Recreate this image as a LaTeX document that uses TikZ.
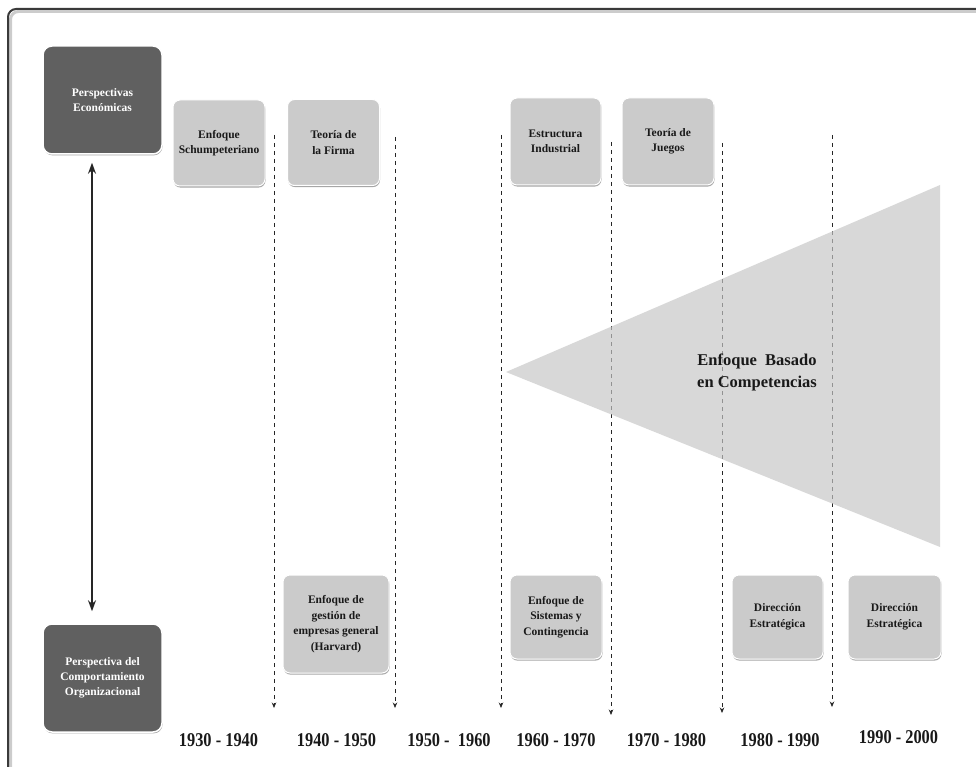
\documentclass[tikz,border=0pt]{standalone}
\usepackage{fontspec}
\setmainfont{Liberation Serif}
\newfontfamily\yearfont{Liberation Serif}[FakeStretch=0.84]
\usetikzlibrary{shadows,arrows.meta}

\definecolor{boxdark}{HTML}{606060}
\definecolor{boxlight}{HTML}{CBCBCB}
\definecolor{wedge}{HTML}{C6C6C6}
\definecolor{framecol}{HTML}{3A3A3A}

\begin{document}
\begin{tikzpicture}[x=1pt,y=-1pt,
  darkbox/.style={rectangle, rounded corners=9pt, fill=boxdark, draw=white,
    line width=1.5pt, text=white, align=center, inner sep=0pt,
    minimum width=119pt, minimum height=108pt,
    font=\bfseries\fontsize{11.5}{15}\selectfont,
    drop shadow={shadow xshift=0.6pt, shadow yshift=-1.4pt, fill=black, opacity=0.35}},
  lightbox/.style={rectangle, rounded corners=7pt, fill=boxlight, draw=white,
    line width=1pt, text=black!90, align=center, inner sep=0pt,
    font=\bfseries\fontsize{11.5}{15.5}\selectfont,
    drop shadow={shadow xshift=0.5pt, shadow yshift=-1.6pt, fill=black, opacity=0.35}},
  yearlbl/.style={font=\yearfont\bfseries\fontsize{19.5}{20}\selectfont, text=black!90, inner sep=0pt},
  period/.style={dashed, dash pattern=on 4pt off 4pt, line width=0.7pt, draw=black!85,
    -{Stealth[length=5.5pt,width=4.5pt]}},
  axis/.style={line width=1.3pt, draw=black!85,
    {Stealth[length=11pt,width=8pt]}-{Stealth[length=11pt,width=8pt]}}
]
\useasboundingbox (0,0) rectangle (976,767);

% outer frame with a soft shadow
\draw[line width=3pt, draw=black!20, rounded corners=8pt] (10.5,767) -- (10.5,11.5) -- (976,11.5);
\draw[line width=2pt, draw=framecol, rounded corners=8pt] (8,767) -- (8,9) -- (976,9);

% the two perspectives and the axis between them
\node[darkbox] (econ) at (102.5,100) {Perspectivas\\Económicas};
\node[darkbox] (org) at (102.5,678) {Perspectiva del\\Comportamiento\\Organizacional};
\draw[axis] ([xshift=-10.5pt,yshift=-8pt]econ.south) -- ([xshift=-10.5pt,yshift=12pt]org.north);

% approaches on the economic side
\node[lightbox, minimum width=92pt, minimum height=86pt] (schum) at (219,143) {Enfoque\\Schumpeteriano};
\node[lightbox, minimum width=92pt, minimum height=86pt] (firma) at (333.5,142.5) {Teoría de\\la Firma};
\node[lightbox, minimum width=91pt, minimum height=87pt] (indus) at (555.5,141.5) {Estructura\\Industrial};
\node[lightbox, minimum width=92pt, minimum height=87pt] (juegos) at (668,141.5) {Teoría de\\Juegos};

% approaches on the organizational side
\node[lightbox, minimum width=106pt, minimum height=98pt] (harvard) at (336,624) {Enfoque de\\gestión de\\empresas general\\(Harvard)};
\node[lightbox, minimum width=92pt, minimum height=84pt] (sistemas) at (556,617) {Enfoque de\\Sistemas y\\Contingencia};
\node[lightbox, minimum width=91pt, minimum height=84pt] (dir1) at (777.5,617) {Dirección\\Estratégica};
\node[lightbox, minimum width=93pt, minimum height=84pt] (dir2) at (894.5,617) {Dirección\\Estratégica};

% decade separators
\coordinate (s1t) at (274,135); \coordinate (s1b) at (274,708);
\coordinate (s2t) at (395,137); \coordinate (s2b) at (395,708);
\coordinate (s3t) at (501,135); \coordinate (s3b) at (501,708);
\coordinate (s4t) at (611,142); \coordinate (s4b) at (611,715);
\coordinate (s5t) at (722,143); \coordinate (s5b) at (722,713);
\coordinate (s6t) at (832,135); \coordinate (s6b) at (832,707);
\foreach \i in {1,...,6} \draw[period] (s\i t) -- (s\i b);

% competence-based approach widening over time
\coordinate (wapex) at (506,372);
\coordinate (wtop) at (940,185);
\coordinate (wbot) at (940,547);
\fill[wedge, fill opacity=0.68] (wapex) -- (wtop) -- (wbot) -- cycle;
\node[font=\bfseries\fontsize{16.5}{22}\selectfont, text=black!90, align=center] (comp) at (757,372)
  {Enfoque\ \ Basado\\en Competencias};

% decade labels
\node[yearlbl] (y1) at (218.5,740) {1930 - 1940};
\node[yearlbl] (y2) at (336.5,740) {1940 - 1950};
\node[yearlbl] (y3) at (449,740) {1950 -\ \ 1960};
\node[yearlbl] (y4) at (556,740) {1960 - 1970};
\node[yearlbl] (y5) at (666.5,740) {1970 - 1980};
\node[yearlbl] (y6) at (780,740) {1980 - 1990};
\node[yearlbl] (y7) at (898.5,737) {1990 - 2000};
\end{tikzpicture}
\end{document}
